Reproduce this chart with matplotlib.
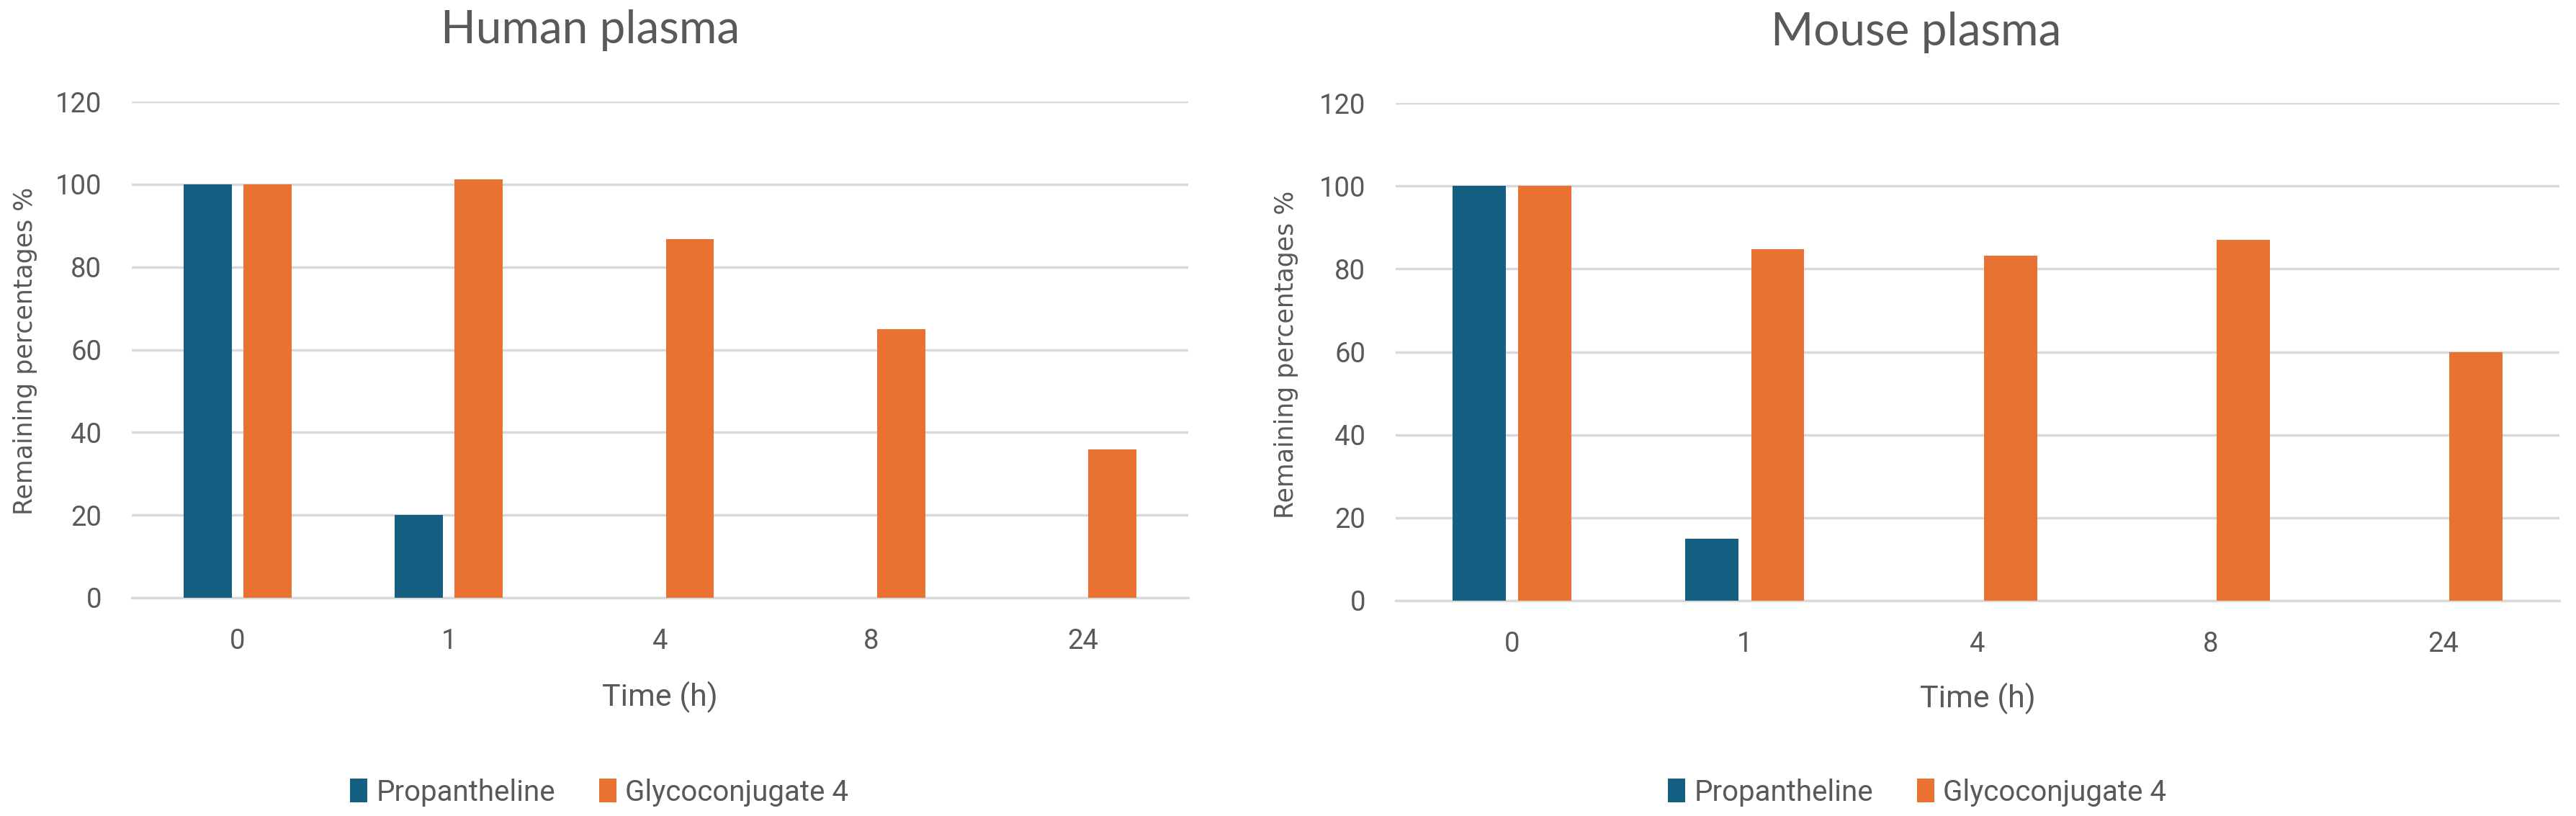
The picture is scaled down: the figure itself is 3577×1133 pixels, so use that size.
import matplotlib
matplotlib.use("Agg")
import matplotlib.pyplot as plt
import numpy as np

# ---- data ----
time_labels = ["0", "1", "4", "8", "24"]
series_names = ["Propantheline", "Glycoconjugate 4"]
human_propantheline = [100, 20, 0, 0, 0]
human_glyco = [100, 101.2, 86.7, 65.0, 35.8]
mouse_propantheline = [100, 15, 0, 0, 0]
mouse_glyco = [100, 84.7, 83.2, 87.0, 60.0]
titles = ["Human plasma", "Mouse plasma"]
yticks = [0, 20, 40, 60, 80, 100, 120]

BLUE = "#156082"
ORANGE = "#E97132"
GRID = "#D9D9D9"
TXT = "#595959"

TICKFONT = ["Roboto", "DejaVu Sans"]
TITLEFONT = ["Lato", "DejaVu Sans"]

W, H = 3577, 1133
fig = plt.figure(figsize=(W / 100, H / 100), dpi=100)
fig.patch.set_facecolor("white")

axes_rects = [
    (183 / W, 1 - 830 / H, (1650 - 183) / W, (830 - 141) / H),
    (1938 / W, 1 - 834 / H, (3554 - 1938) / W, (834 - 143) / H),
]
panels = [
    (human_propantheline, human_glyco),
    (mouse_propantheline, mouse_glyco),
]
title_pos = [(820 / W, 1 - 42 / H), (2661 / W, 1 - 45 / H)]
ylabel_pos = [(35 / W, 1 - 487 / H), (1786 / W, 1 - 492 / H)]
xlabel_pos = [(916 / W, 1 - 968 / H), (2746 / W, 1 - 970 / H)]
legend_pos = [(832 / W, 1 - 1100 / H), (2662 / W, 1 - 1100 / H)]

bw = 0.228
off = 0.1415
x = np.arange(len(time_labels))

for i, (rect, (prop, glyco)) in enumerate(zip(axes_rects, panels)):
    ax = fig.add_axes(rect)
    b1 = ax.bar(x - off, prop, width=bw, color=BLUE, zorder=3, label=series_names[0])
    b2 = ax.bar(x + off, glyco, width=bw, color=ORANGE, zorder=3, label=series_names[1])
    ax.set_xlim(-0.5, len(time_labels) - 0.5)
    ax.set_ylim(0, 120)
    ax.set_yticks(yticks)
    ax.set_xticks(x)
    ax.set_xticklabels(time_labels)
    ax.yaxis.grid(True, color=GRID, linewidth=2.5, zorder=0)
    ax.set_axisbelow(True)
    for s in ["top", "right", "left"]:
        ax.spines[s].set_visible(False)
    ax.spines["bottom"].set_color(GRID)
    ax.spines["bottom"].set_linewidth(2.5)
    ax.tick_params(axis="both", length=0, labelsize=27.5, labelcolor=TXT)
    ax.tick_params(axis="y", pad=30)
    ax.tick_params(axis="x", pad=30)
    for lab in ax.get_xticklabels() + ax.get_yticklabels():
        lab.set_family(TICKFONT)

    fig.text(*title_pos[i], titles[i], ha="center", va="center",
             fontsize=46, color=TXT, family=TITLEFONT)
    fig.text(*ylabel_pos[i], "Remaining percentages %", ha="center", va="center",
             rotation=90, fontsize=25, color=TXT, family=["DejaVu Sans"])
    fig.text(*xlabel_pos[i], "Time (h)", ha="center", va="center",
             fontsize=31, color=TXT, family=TICKFONT)
    fig.legend(handles=[b1, b2], labels=series_names, loc="center",
               bbox_to_anchor=legend_pos[i], ncol=2, frameon=False,
               prop={"family": TICKFONT, "size": 29}, labelcolor=TXT,
               handlelength=0.6, handleheight=0.9, handletextpad=0.3,
               columnspacing=1.5)

fig.savefig("out.png", dpi=100, facecolor="white")
